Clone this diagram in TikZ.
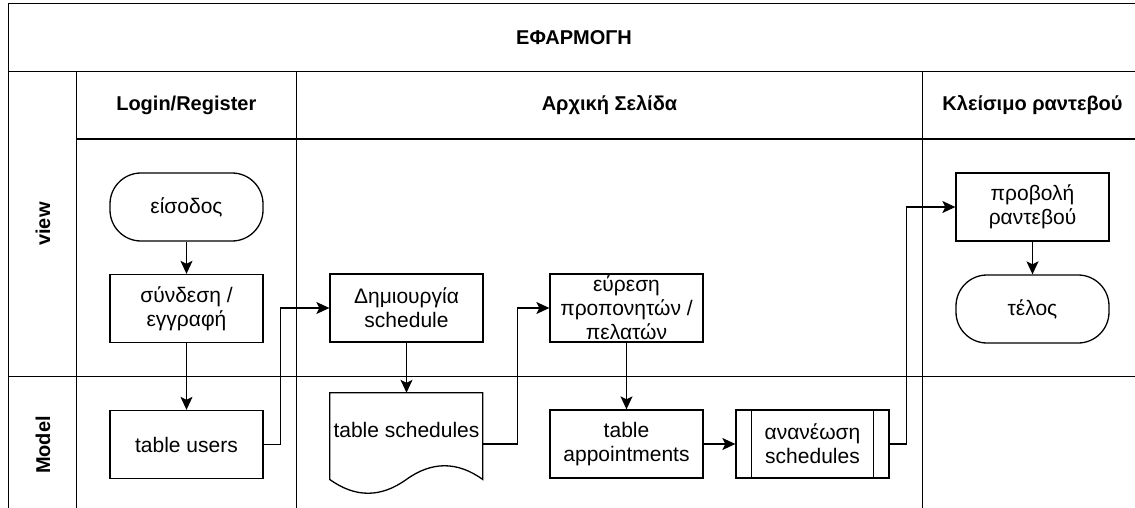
\documentclass[tikz,border=0pt]{standalone}
\usepackage{fontspec}
\setmainfont{Liberation Sans}
\usetikzlibrary{arrows.meta}
\begin{document}
\begin{tikzpicture}[x=1pt,y=-1pt,
  frame/.style={line width=1.3pt},
  box/.style={draw, line width=1.3pt, minimum width=153pt, minimum height=68pt, inner sep=0pt, align=center, font=\fontsize{21}{24}\selectfont},
  term/.style={box, rounded corners=31pt},
  hdr/.style={font=\bfseries\fontsize{20}{24}\selectfont, inner sep=0pt},
  conn/.style={line width=1.3pt, -{Stealth[length=13pt,width=12pt,inset=3pt]}}
]
\useasboundingbox (0,0) rectangle (1135,508);
\clip (0,0) rectangle (1135,508);
% pool frame
\draw[frame] (1150,3.7) -- (8.3,3.7) -- (8.3,520);
\draw[frame] (8.3,71.3) -- (1150,71.3);
\draw[frame] (76.3,71.3) -- (76.3,520);
\draw[frame] (76.3,139) -- (1150,139);
\draw[frame] (296.3,71.3) -- (296.3,520);
\draw[frame] (922.7,71.3) -- (922.7,520);
\draw[frame] (8.3,376.7) -- (1150,376.7);
% titles
\node[hdr] (title) at (574,38) {ΕΦΑΡΜΟΓΗ};
\node[hdr] (hlogin) at (186.3,105) {Login/Register};
\node[hdr] (hhome) at (609.5,105) {Αρχική Σελίδα};
\node[hdr] (hclose) at (1032.5,105) {Κλείσιμο ραντεβού};
\node[hdr, rotate=90] (lview) at (43,224) {view};
\node[hdr, rotate=90] (lmodel) at (43,445) {Model};
% nodes
\node[term] (eisodos) at (186.5,207) {είσοδος};
\node[box] (syndesi) at (186.5,308.5) {σύνδεση /\\εγγραφή};
\node[box] (users) at (186.5,444.5) {table users};
\node[box] (dimiourgia) at (406.5,308) {Δημιουργία\\schedule};
\node[minimum width=153pt, minimum height=102pt, inner sep=0pt] (doc) at (406.5,444) {};
\draw[line width=1.3pt, shift={(doc.north west)}] (0,0) -- (153,0) -- (153,86.7)
  .. controls (127.5,68.37) and (102,68.37) .. (76.5,86.7)
  .. controls (51,105.03) and (25.5,105.03) .. (0,86.7) -- cycle;
\node[font=\fontsize{21}{24}\selectfont, inner sep=0pt] (doctext) at (406.5,430) {table schedules};
\node[box] (euresi) at (626.5,308) {εύρεση\\προπονητών /\\πελατών};
\node[box] (appoint) at (626.5,444) {table\\appointments};
\node[box] (ananeosi) at (812.5,444) {ανανέωση\\schedules};
\draw[line width=1.3pt] ([xshift=16pt]ananeosi.north west) -- ([xshift=16pt]ananeosi.south west);
\draw[line width=1.3pt] ([xshift=-16pt]ananeosi.north east) -- ([xshift=-16pt]ananeosi.south east);
\node[box] (provoli) at (1032.5,207) {προβολή\\ραντεβού};
\node[term] (telos) at (1032.5,309) {τέλος};
% connectors
\draw[conn] (eisodos) -- (syndesi);
\draw[conn] (syndesi) -- (users);
\draw[conn] (users.east) -- ++(17,0) |- (dimiourgia.west);
\draw[conn] (dimiourgia) -- (doc.north);
\draw[conn] (doc.east) -- ++(34,0) |- (euresi.west);
\draw[conn] (euresi) -- (appoint);
\draw[conn] (appoint) -- (ananeosi);
\draw[conn] (ananeosi.east) -- ++(17,0) |- (provoli.west);
\draw[conn] (provoli) -- (telos);
\end{tikzpicture}
\end{document}
